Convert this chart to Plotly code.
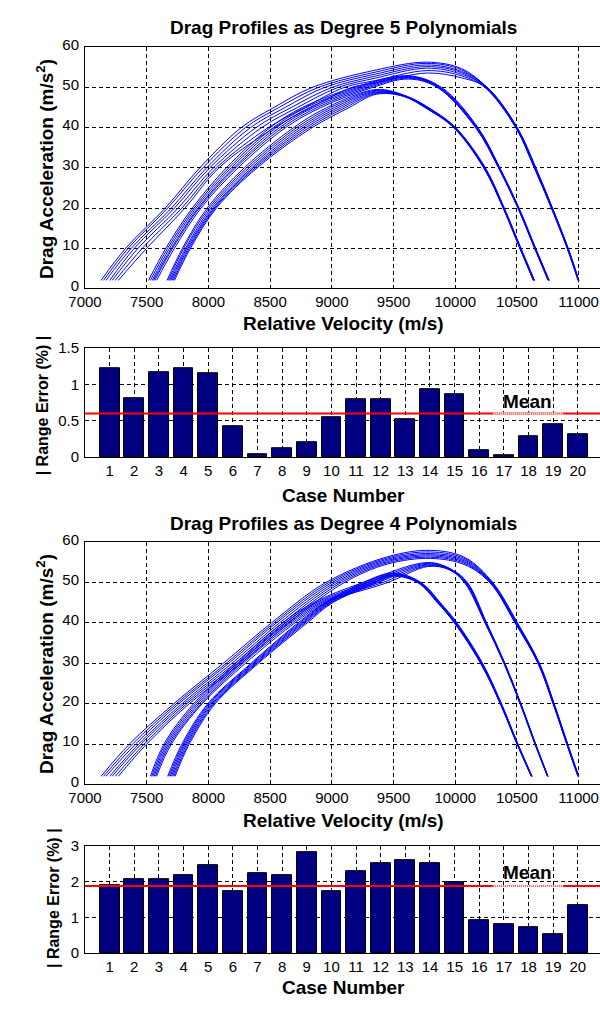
import plotly.graph_objects as go
import numpy as np

# ---------------- bar data ----------------
CASES = list(range(1, 21))
ERR_DEG5 = [1.22, 0.81, 1.17, 1.22, 1.15, 0.42, 0.04, 0.12, 0.20, 0.55,
            0.80, 0.80, 0.52, 0.94, 0.86, 0.10, 0.02, 0.28, 0.45, 0.31]
ERR_DEG4 = [1.90, 2.06, 2.06, 2.18, 2.48, 1.73, 2.23, 2.18, 2.82, 1.73,
            2.30, 2.53, 2.60, 2.53, 2.00, 0.93, 0.82, 0.73, 0.53, 1.33]

VEL_TICKS = [7000, 7500, 8000, 8500, 9000, 9500, 10000, 10500, 11000]
VEL_TICKTEXT = ["7000", "7500", "8000", "8500", "9000", "9500", "10000", "10500", "11000"]
DRAG_TICKS = [0, 10, 20, 30, 40, 50, 60]
ERR5_TICKS = [0, 0.5, 1, 1.5]
ERR5_TICKTEXT = ["0", "0.5", "1", "1.5"]
ERR4_TICKS = [0, 1, 2, 3]

# ---------------- degree 5 drag profiles ----------------
# family A -> ends near 11000
D5_A_RISE_D = [2, 10, 20, 30, 40, 45, 50]
D5_A_RISE_V = [
    [7130, 7330, 7650, 7930, 8265, 8530, 8840],
    [7150, 7350, 7670, 7955, 8300, 8570, 8890],
    [7170, 7375, 7700, 7985, 8340, 8620, 8940],
    [7200, 7400, 7725, 8010, 8385, 8670, 9000],
    [7220, 7430, 7755, 8040, 8430, 8720, 9050],
    [7245, 7465, 7785, 8065, 8485, 8780, 9100],
    [7270, 7500, 7810, 8085, 8535, 8830, 9160],
]
D5_A_TOP_V = [9350, 9770, 10050]
D5_A_TOP_D = [
    [54.3, 56.3, 54.7], [53.8, 56.0, 54.4], [53.3, 55.6, 54.0], [52.8, 55.2, 53.7],
    [52.3, 54.8, 53.3], [51.7, 54.2, 52.9], [51.1, 53.6, 52.4],
]
D5_A_FALL_D = [50, 40, 30, 20, 10, 2]
D5_A_FALL_V = [
    [10256, 10500, 10650, 10785, 10913, 11000],
    [10250, 10495, 10645, 10782, 10910, 10998],
    [10262, 10503, 10653, 10788, 10915, 11002],
    [10245, 10492, 10642, 10780, 10908, 10996],
    [10258, 10502, 10652, 10787, 10914, 11001],
    [10240, 10490, 10640, 10778, 10906, 10995],
    [10252, 10498, 10648, 10784, 10911, 10999],
]
# family B -> ends near 10760
D5_B_RISE_D = [2, 10, 20, 30, 40, 45, 50]
D5_B_RISE_V = [
    [7515, 7655, 7870, 8145, 8500, 8760, 9180],
    [7530, 7670, 7885, 8165, 8525, 8790, 9210],
    [7545, 7685, 7900, 8185, 8550, 8820, 9240],
    [7555, 7700, 7915, 8205, 8575, 8850, 9270],
    [7565, 7710, 7925, 8220, 8600, 8880, 9300],
    [7580, 7725, 7940, 8240, 8625, 8910, 9330],
]
D5_B_TOP_V = [9620]
D5_B_TOP_D = [[52.9], [52.8], [52.7], [52.5], [52.3], [52.1]]
D5_B_FALL_D = [50, 40, 30, 20, 10, 2]
D5_B_FALL_V = [
    [9890, 10185, 10362, 10517, 10652, 10762],
    [9880, 10180, 10360, 10515, 10650, 10760],
    [9875, 10176, 10357, 10513, 10648, 10758],
    [9870, 10172, 10355, 10511, 10646, 10756],
    [9862, 10168, 10352, 10509, 10644, 10754],
    [9855, 10165, 10350, 10507, 10642, 10752],
]
# family C -> ends near 10640
D5_C_RISE_D = [2, 10, 20, 30, 40, 45]
D5_C_RISE_V = [
    [7665, 7790, 7990, 8290, 8690, 8960],
    [7675, 7800, 8005, 8310, 8715, 8990],
    [7685, 7815, 8020, 8330, 8740, 9020],
    [7695, 7825, 8035, 8350, 8765, 9050],
    [7705, 7835, 8045, 8365, 8790, 9080],
    [7715, 7845, 8055, 8380, 8815, 9110],
    [7725, 7855, 8065, 8395, 8840, 9140],
]
D5_C_TOP_V = [9360]
D5_C_TOP_D = [[49.5], [49.3], [49.1], [48.9], [48.7], [48.5], [48.3]]
D5_C_FALL_D = [47.8, 44.5, 40, 30, 20, 10, 2]
D5_C_FALL_V = [
    [9610, 9810, 10005, 10245, 10398, 10533, 10643],
    [9605, 9805, 10000, 10240, 10395, 10530, 10640],
    [9600, 9800, 9998, 10238, 10393, 10528, 10638],
    [9595, 9795, 9995, 10236, 10392, 10527, 10637],
    [9590, 9790, 9992, 10234, 10390, 10525, 10635],
    [9585, 9785, 9990, 10232, 10389, 10524, 10634],
    [9580, 9780, 9987, 10230, 10388, 10523, 10633],
]

# ---------------- degree 4 drag profiles ----------------
D4_A_RISE_D = [2, 10, 20, 30, 40, 50]
D4_A_RISE_V = [
    [7130, 7360, 7720, 8120, 8510, 8950],
    [7150, 7385, 7740, 8145, 8530, 8975],
    [7170, 7410, 7760, 8165, 8550, 9000],
    [7200, 7435, 7785, 8190, 8575, 9025],
    [7220, 7455, 7805, 8215, 8600, 9050],
    [7245, 7480, 7825, 8240, 8625, 9075],
    [7270, 7500, 7845, 8265, 8650, 9100],
]
D4_A_TOP_V = [9450, 9800, 10080]
D4_A_TOP_D = [
    [56.4, 58.0, 56.2], [56.1, 57.6, 55.9], [55.8, 57.2, 55.6], [55.5, 56.9, 55.3],
    [55.2, 56.6, 55.0], [54.9, 56.3, 54.7], [54.6, 56.0, 54.4],
]
D4_A_FALL_D = [50, 40, 30, 20, 10, 2]
D4_A_FALL_V = [
    [10305, 10505, 10683, 10802, 10912, 11001],
    [10300, 10500, 10680, 10800, 10910, 11000],
    [10296, 10497, 10678, 10798, 10908, 10998],
    [10292, 10494, 10676, 10797, 10907, 10997],
    [10288, 10491, 10674, 10795, 10905, 10996],
    [10284, 10488, 10672, 10794, 10904, 10995],
    [10280, 10485, 10670, 10792, 10903, 10994],
]
D4_B_RISE_D = [2, 10, 20, 30, 40, 45, 50]
D4_B_RISE_V = [
    [7530, 7640, 7880, 8220, 8600, 8850, 9250],
    [7540, 7652, 7895, 8235, 8620, 8870, 9290],
    [7550, 7664, 7910, 8250, 8640, 8890, 9330],
    [7560, 7676, 7925, 8265, 8660, 8910, 9370],
    [7570, 7688, 7940, 8280, 8680, 8930, 9410],
    [7580, 7700, 7950, 8300, 8700, 8950, 9450],
]
D4_B_TOP_V = [9780]
D4_B_TOP_D = [[55.0], [54.8], [54.6], [54.4], [54.2], [54.0]]
D4_B_FALL_D = [53.2, 50, 40, 30, 20, 10, 2]
D4_B_FALL_V = [
    [9975, 10100, 10255, 10403, 10532, 10652, 10752],
    [9970, 10095, 10252, 10401, 10531, 10651, 10751],
    [9965, 10090, 10250, 10400, 10530, 10650, 10750],
    [9960, 10085, 10247, 10398, 10528, 10648, 10749],
    [9955, 10080, 10244, 10396, 10527, 10647, 10748],
    [9950, 10075, 10241, 10394, 10525, 10645, 10747],
]
D4_C_RISE_D = [2, 10, 20, 30, 40, 45, 50]
D4_C_RISE_V = [
    [7670, 7785, 7995, 8345, 8725, 8945, 9250],
    [7680, 7795, 8005, 8355, 8737, 8955, 9270],
    [7690, 7805, 8015, 8365, 8749, 8965, 9290],
    [7700, 7815, 8025, 8375, 8761, 8975, 9310],
    [7710, 7825, 8035, 8385, 8773, 8985, 9330],
    [7720, 7835, 8045, 8395, 8785, 8995, 9350],
    [7730, 7845, 8055, 8405, 8800, 9005, 9370],
]
D4_C_TOP_V = [9500]
D4_C_TOP_D = [[52.4], [52.2], [52.0], [51.9], [51.8], [51.7], [51.6]]
D4_C_FALL_D = [50, 45, 40, 30, 20, 10, 2]
D4_C_FALL_V = [
    [9725, 9880, 10015, 10222, 10375, 10508, 10623],
    [9720, 9876, 10010, 10218, 10373, 10507, 10621],
    [9715, 9872, 10005, 10215, 10371, 10505, 10620],
    [9710, 9868, 10002, 10212, 10369, 10504, 10619],
    [9705, 9864, 9999, 10210, 10367, 10502, 10618],
    [9700, 9860, 9996, 10208, 10366, 10501, 10617],
    [9695, 9856, 9993, 10205, 10364, 10500, 10616],
]

FONT = "Liberation Sans, Arial, Helvetica, sans-serif"
W, H = 600, 1009
X0 = 70 / W


def ydom(top_px, bot_px):
    return [1 - bot_px / H, 1 - top_px / H]


fig = go.Figure()


def add_family(rise_d, rise_v, top_v, top_d, fall_d, fall_v, xa, ya):
    for i in range(len(rise_v)):
        xs = list(rise_v[i]) + list(top_v) + list(fall_v[i])
        ys = list(rise_d) + list(top_d[i]) + list(fall_d)
        fig.add_trace(go.Scatter(x=xs, y=ys, mode="lines",
                                 line=dict(color="#0000FF", width=1, shape="spline", smoothing=1.0),
                                 xaxis=xa, yaxis=ya, showlegend=False, hoverinfo="skip"))


add_family(D5_A_RISE_D, D5_A_RISE_V, D5_A_TOP_V, D5_A_TOP_D, D5_A_FALL_D, D5_A_FALL_V, "x", "y")
add_family(D5_B_RISE_D, D5_B_RISE_V, D5_B_TOP_V, D5_B_TOP_D, D5_B_FALL_D, D5_B_FALL_V, "x", "y")
add_family(D5_C_RISE_D, D5_C_RISE_V, D5_C_TOP_V, D5_C_TOP_D, D5_C_FALL_D, D5_C_FALL_V, "x", "y")
add_family(D4_A_RISE_D, D4_A_RISE_V, D4_A_TOP_V, D4_A_TOP_D, D4_A_FALL_D, D4_A_FALL_V, "x3", "y3")
add_family(D4_B_RISE_D, D4_B_RISE_V, D4_B_TOP_V, D4_B_TOP_D, D4_B_FALL_D, D4_B_FALL_V, "x3", "y3")
add_family(D4_C_RISE_D, D4_C_RISE_V, D4_C_TOP_V, D4_C_TOP_D, D4_C_FALL_D, D4_C_FALL_V, "x3", "y3")

for errs, xa, ya in [(ERR_DEG5, "x2", "y2"), (ERR_DEG4, "x4", "y4")]:
    fig.add_trace(go.Bar(x=CASES, y=errs, width=0.8,
                         marker=dict(color="#000080", line=dict(color="black", width=1)),
                         xaxis=xa, yaxis=ya, showlegend=False, hoverinfo="skip"))

grid = dict(showgrid=True, gridcolor="black", gridwidth=1, griddash="4px,3px", zeroline=False,
            showline=True, linecolor="black", linewidth=1, ticks="",
            tickfont=dict(family=FONT, size=15, color="black"))

layout = dict(width=W, height=H, margin=dict(l=0, r=0, t=0, b=0),
              paper_bgcolor="white", plot_bgcolor="white", showlegend=False, bargap=0)

layout["xaxis"] = dict(grid, domain=[X0, 1], range=[7000, 11173], tickvals=VEL_TICKS,
                       ticktext=VEL_TICKTEXT, anchor="y", mirror=True)
layout["yaxis"] = dict(grid, domain=ydom(36, 282), range=[0, 60], tickvals=DRAG_TICKS, anchor="x",
                       ticklabelstandoff=2, ticklabelshift=-3)
layout["xaxis2"] = dict(grid, domain=[X0, 1], range=[0, 20.9], tickvals=CASES, anchor="y2", mirror=True)
layout["yaxis2"] = dict(grid, domain=ydom(343, 454), range=[0, 1.5], tickvals=ERR5_TICKS,
                        ticktext=ERR5_TICKTEXT, anchor="x2", ticklabelstandoff=2)
layout["xaxis3"] = dict(grid, domain=[X0, 1], range=[7000, 11173], tickvals=VEL_TICKS,
                        ticktext=VEL_TICKTEXT, anchor="y3", mirror=True)
layout["yaxis3"] = dict(grid, domain=ydom(541, 788), range=[0, 60], tickvals=DRAG_TICKS, anchor="x3",
                        ticklabelstandoff=2, ticklabelshift=-3)
layout["xaxis4"] = dict(grid, domain=[X0, 1], range=[0, 20.9], tickvals=CASES, anchor="y4", mirror=True)
layout["yaxis4"] = dict(grid, domain=ydom(851, 960), range=[0, 3], tickvals=ERR4_TICKS, anchor="x4",
                        ticklabelstandoff=2)

fig.update_layout(**layout)

# mean lines (with the lighter dotted stretch under the "Mean" label)
for errs, xa, ya in [(ERR_DEG5, "x2", "y2"), (ERR_DEG4, "x4", "y4")]:
    m = float(np.mean(errs))
    fig.add_shape(type="line", xref=xa + " domain", yref=ya, x0=0, x1=1, y0=m, y1=m,
                  line=dict(color="#FF0000", width=2), layer="above")
    fig.add_shape(type="line", xref=xa, yref=ya, x0=16.55, x1=19.4, y0=m, y1=m,
                  line=dict(color="white", width=2), layer="above")
    fig.add_shape(type="line", xref=xa, yref=ya, x0=16.55, x1=19.4, y0=m, y1=m,
                  line=dict(color="#FF5050", width=2, dash="1px,1px"), layer="above")


def ann(text, xpx, ypx, size, bold=True, angle=0):
    fig.add_annotation(text=("<b>%s</b>" % text) if bold else text, x=xpx / W, y=1 - ypx / H,
                       xref="paper", yref="paper", showarrow=False, textangle=angle,
                       xanchor="center", yanchor="middle",
                       font=dict(family=FONT, size=size, color="black"))


ann("Drag Profiles as Degree 5 Polynomials", 336, 16, 19)
ann("Relative Velocity (m/s)", 336, 318, 19)
ann("Drag Acceleration (m/s<sup>2</sup>)", 29, 160, 19, angle=-90)
ann("Case Number", 336, 493, 19)
ann("| Range Error (%) |", 26, 401, 16, angle=-90)
ann("Mean", 525, 397, 19)

ann("Drag Profiles as Degree 4 Polynomials", 336, 522, 19)
ann("Relative Velocity (m/s)", 336, 825, 19)
ann("Drag Acceleration (m/s<sup>2</sup>)", 29, 665, 19, angle=-90)
ann("Case Number", 336, 995, 19)
ann("| Range Error (%) |", 37, 904, 16, angle=-90)
ann("Mean", 525, 878, 19)

fig.write_html("out.html")
